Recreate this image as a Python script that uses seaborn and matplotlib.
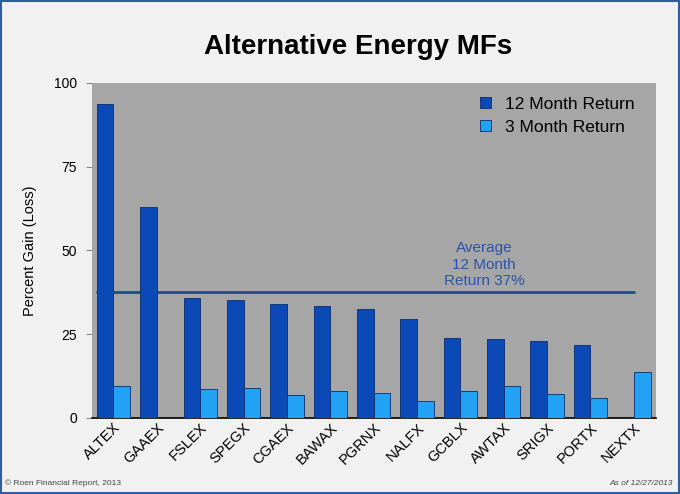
import seaborn as sns
import matplotlib.pyplot as plt
import pandas as pd
from matplotlib.patches import Rectangle

funds = ["ALTEX", "GAAEX", "FSLEX", "SPEGX", "CGAEX", "BAWAX", "PGRNX",
         "NALFX", "GCBLX", "AWTAX", "SRIGX", "PORTX", "NEXTX"]
ret_12m = [93.8, 62.9, 35.8, 35.3, 34.0, 33.3, 32.5, 29.5, 23.9, 23.7, 23.1, 21.7, None]
ret_3m = [9.4, None, 8.7, 9.0, 6.7, 8.0, 7.4, 5.2, 7.9, 9.4, 7.0, 6.0, 13.6]
avg_12m = 37.5

df = pd.DataFrame({"fund": funds, "12 Month Return": ret_12m, "3 Month Return": ret_3m})
df_long = df.melt(id_vars="fund", var_name="series", value_name="gain")

sns.set_style("white", {"text.color": "black", "axes.labelcolor": "black",
                        "xtick.color": "black", "ytick.color": "black"})
plt.rcParams['font.family'] = ['Liberation Sans', 'DejaVu Sans']

fig = plt.figure(figsize=(6.8, 4.94), dpi=100, facecolor="#f1f1f1")
ax = fig.add_axes([0.135, 0.154, 0.829, 0.678])
ax.set_facecolor("#a6a6a6")

sns.barplot(data=df_long, x="fund", y="gain", hue="series", order=funds,
            palette=["#0b49b6", "#22a2f4"], saturation=1, width=0.77,
            edgecolor="#0a2b6e", linewidth=0.6, ax=ax, zorder=3)

# average line sits behind the bars
ax.plot([-0.38, 12.0], [avg_12m, avg_12m], color="#1f4b96", lw=2, zorder=2)
ax.text(8.55, avg_12m + 1.2, "Average\n12 Month\nReturn 37%", color="#2a55a8",
        ha="center", va="bottom", fontsize=11, linespacing=1.25)

ax.set_ylim(0, 100)
ax.set_xlim(-0.5, 12.5)
ax.set_yticks([0, 25, 50, 75, 100])
ax.tick_params(axis="y", length=4.5, color="#888888", labelcolor="black",
               labelsize=10, pad=6, left=True)
ax.tick_params(axis="x", length=0, labelsize=10.5, pad=2, labelcolor="black")
plt.setp(ax.get_xticklabels(), rotation=45, ha="right", rotation_mode="anchor")
for s in ["top", "right", "left"]:
    ax.spines[s].set_visible(False)
ax.spines["bottom"].set_color("black")
ax.spines["bottom"].set_linewidth(1.2)
ax.set_xlabel("")
ax.set_ylabel("Percent Gain (Loss)", fontsize=10.5, labelpad=12.5, color="black")

leg = ax.legend(title="", loc="upper right", frameon=False, fontsize=12.5,
                handlelength=0.6, handleheight=0.6, handletextpad=0.8,
                labelspacing=0.45, bbox_to_anchor=(0.99, 1.005))
for t in leg.get_texts():
    t.set_color("black")

fig.text(0.527, 0.905, "Alternative Energy MFs", ha="center", va="center",
         fontsize=20, fontweight="bold", color="black")
fig.text(0.008, 0.018, "© Roen Financial Report, 2013", fontsize=6, color="#444444")
fig.text(0.99, 0.018, "As of 12/27/2013", fontsize=6, color="#444444",
         ha="right", style="italic")
fig.patches.append(Rectangle((0.002, 0.003), 0.996, 0.994, transform=fig.transFigure,
                             fill=False, edgecolor="#2f5f9f", lw=1.5))

plt.savefig("out.png", dpi=100, facecolor=fig.get_facecolor())
